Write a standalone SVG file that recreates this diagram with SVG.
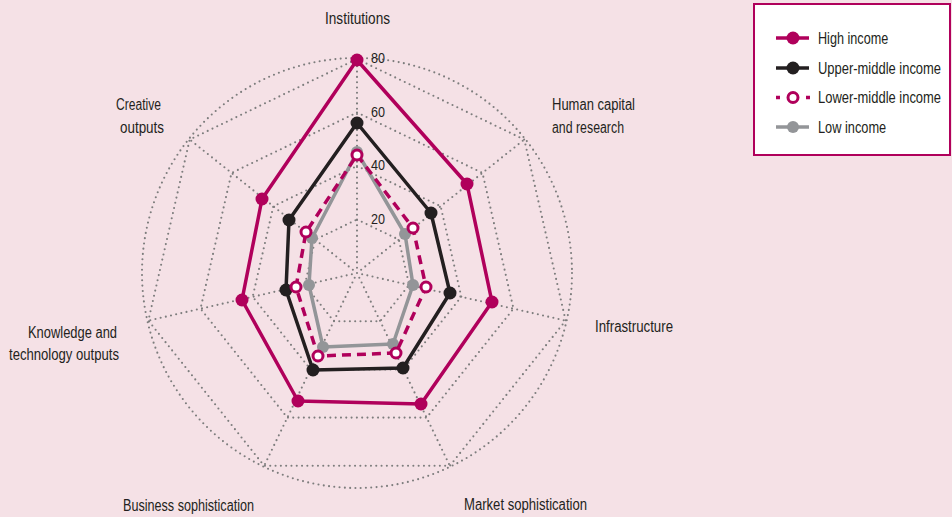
<svg xmlns="http://www.w3.org/2000/svg" width="952" height="517" viewBox="0 0 952 517">
<style>
.t{font-family:"Liberation Sans",Arial,sans-serif;font-size:16px;fill:#231f20}
.v{font-size:15px}
.grid{fill:none;stroke:#7d7d7d;stroke-width:2.1;stroke-linecap:round;stroke-dasharray:0 5.3}
.hi{fill:none;stroke:#b0005b;stroke-width:3.5;stroke-linejoin:round}
.um{fill:none;stroke:#231f20;stroke-width:3.5;stroke-linejoin:round}
.lo{fill:none;stroke:#939598;stroke-width:3.5;stroke-linejoin:round}
.lm{fill:none;stroke:#b0005b;stroke-width:3.5;stroke-dasharray:9 6}
.dhi{fill:#b0005b}
.dum{fill:#231f20}
.dlo{fill:#939598}
.dlm{fill:#fff;stroke:#b0005b;stroke-width:3}
</style>
<rect x="0" y="0" width="952" height="517" fill="#f5e1e6"/>
<g id="grid">
<circle class="grid" cx="357" cy="273" r="215"/>
<polygon class="grid" points="357,59 524.31,139.57 565.63,320.62 449.85,465.81 264.15,465.81 148.37,320.62 189.69,139.57"/>
<polygon class="grid" points="357,112.5 482.48,172.93 513.48,308.71 426.64,417.61 287.36,417.61 200.52,308.71 231.52,172.93"/>
<polygon class="grid" points="357,166 440.66,206.29 461.32,296.81 403.43,369.4 310.57,369.4 252.68,296.81 273.34,206.29"/>
<polygon class="grid" points="357,219.5 398.83,239.64 409.16,284.9 380.21,321.2 333.79,321.2 304.84,284.9 315.17,239.64"/>
<path class="grid" d="M357,273L357,59M357,273L524.31,139.57M357,273L565.63,320.62M357,273L449.85,465.81M357,273L264.15,465.81M357,273L148.37,320.62M357,273L189.69,139.57"/>
</g>
<g id="scale" class="t v">
<text x="371" y="63" textLength="14" lengthAdjust="spacingAndGlyphs">80</text>
<text x="371" y="117" textLength="14" lengthAdjust="spacingAndGlyphs">60</text>
<text x="371" y="170" textLength="14" lengthAdjust="spacingAndGlyphs">40</text>
<text x="371" y="224" textLength="14" lengthAdjust="spacingAndGlyphs">20</text>
</g>
<g id="axis-labels" class="t">
<text x="325" y="24" textLength="65" lengthAdjust="spacingAndGlyphs">Institutions</text>
<text x="552" y="110" textLength="83" lengthAdjust="spacingAndGlyphs">Human capital</text>
<text x="552" y="133" textLength="72" lengthAdjust="spacingAndGlyphs">and research</text>
<text x="595" y="332" textLength="78" lengthAdjust="spacingAndGlyphs">Infrastructure</text>
<text x="464" y="510" textLength="123" lengthAdjust="spacingAndGlyphs">Market sophistication</text>
<text x="123" y="511" textLength="131" lengthAdjust="spacingAndGlyphs">Business sophistication</text>
<text x="28" y="338" textLength="89" lengthAdjust="spacingAndGlyphs">Knowledge and</text>
<text x="9" y="360" textLength="110" lengthAdjust="spacingAndGlyphs">technology outputs</text>
<text x="116" y="110" textLength="45" lengthAdjust="spacingAndGlyphs">Creative</text>
<text x="120" y="133" textLength="44" lengthAdjust="spacingAndGlyphs">outputs</text>
</g>
<g id="series-high">
<polygon class="hi" points="357,60 467,184 492,302 421,404 298,401 242,300 262,199"/>
<g class="dhi">
<circle cx="357" cy="60" r="6.5"/><circle cx="467" cy="184" r="6.5"/><circle cx="492" cy="302" r="6.5"/><circle cx="421" cy="404" r="6.5"/><circle cx="298" cy="401" r="6.5"/><circle cx="242" cy="300" r="6.5"/><circle cx="262" cy="199" r="6.5"/>
</g>
</g>
<g id="series-upper-middle">
<polygon class="um" points="357,123 431,213 450,293 403,368 313,370 286,290 289,220"/>
<g class="dum">
<circle cx="357" cy="123" r="6.5"/><circle cx="431" cy="213" r="6.5"/><circle cx="450" cy="293" r="6.5"/><circle cx="403" cy="368" r="6.5"/><circle cx="313" cy="370" r="6.5"/><circle cx="286" cy="290" r="6.5"/><circle cx="289" cy="220" r="6.5"/>
</g>
</g>
<g id="series-low">
<polygon class="lo" points="357,152 405,234 413,285 393,344 323,347 309,285 312,238"/>
<g class="dlo">
<circle cx="357" cy="152" r="6"/><circle cx="405" cy="234" r="6"/><circle cx="413" cy="285" r="6"/><circle cx="393" cy="344" r="6"/><circle cx="323" cy="347" r="6"/><circle cx="309" cy="285" r="6"/><circle cx="312" cy="238" r="6"/>
</g>
</g>
<g id="series-lower-middle">
<polygon class="lm" points="357,155 413,228 426,287 396,353 318,356 296,287 306,232"/>
<g class="dlm">
<circle cx="357" cy="155" r="5"/><circle cx="413" cy="228" r="5"/><circle cx="426" cy="287" r="5"/><circle cx="396" cy="353" r="5"/><circle cx="318" cy="356" r="5"/><circle cx="296" cy="287" r="5"/><circle cx="306" cy="232" r="5"/>
</g>
</g>
<g id="legend">
<rect x="754" y="4" width="196" height="151" fill="#fff" stroke="#b0005b" stroke-width="2"/>
<line class="hi" x1="776" y1="38" x2="809" y2="38"/><circle class="dhi" cx="793" cy="38" r="6.5"/>
<text class="t" transform="translate(818,44) scale(0.79,1)">High income</text>
<line class="um" x1="776" y1="68" x2="809" y2="68"/><circle class="dum" cx="793" cy="68" r="6.5"/>
<text class="t" transform="translate(818,74) scale(0.81,1)">Upper-middle income</text>
<path d="M776,97.5H780M806,97.5H810" stroke="#b0005b" stroke-width="3.5" fill="none"/><circle class="dlm" cx="793" cy="97.5" r="5"/>
<text class="t" transform="translate(818,103) scale(0.81,1)">Lower-middle income</text>
<line class="lo" x1="776" y1="127" x2="809" y2="127"/><circle class="dlo" cx="793" cy="127" r="6"/>
<text class="t" transform="translate(818,133) scale(0.8,1)">Low income</text>
</g>
</svg>
